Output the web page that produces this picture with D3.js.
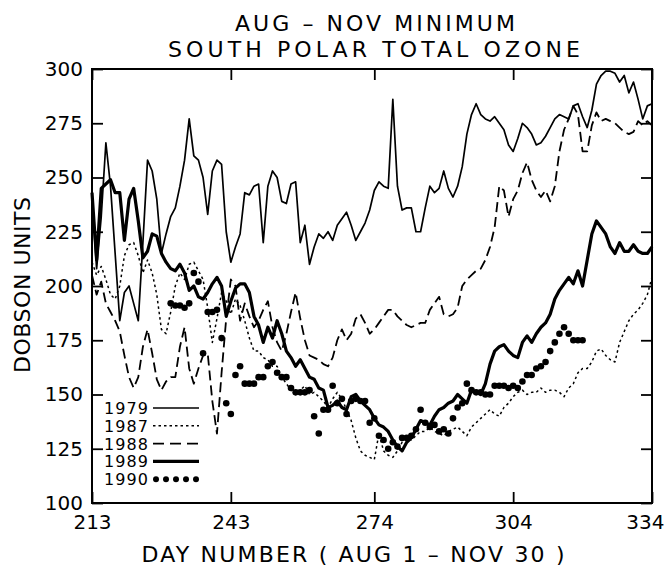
<!DOCTYPE html>
<html>
<head>
<meta charset="utf-8">
<script src="https://cdn.jsdelivr.net/npm/d3@7"></script>
<style>
  body { margin: 0; background: #fff; }
  svg { display: block; }
  text { font-family: "DejaVu Sans", sans-serif; fill: #000; }
</style>
</head>
<body>
<div id="chart"></div>
<script>
// day numbers on the x axis
const xTicks = [213, 243, 274, 304, 334];
const yTicks = [100, 125, 150, 175, 200, 225, 250, 275, 300];

const titleLines = ['AUG \u2013 NOV  MINIMUM', 'SOUTH  POLAR  TOTAL  OZONE'];
const years = ['1979', '1987', '1988', '1989', '1990'];

// daily minimum total ozone (Dobson units), day 213 .. 334
const start = 213;
const ozone1979 = [
  240, 208, 232, 266, 246, 215, 184, 197, 200, 192,
  184, 220, 258, 253, 240, 215, 224, 232, 236, 246,
  258, 277, 260, 258, 250, 233, 253, 258, 256, 225,
  211, 218, 224, 243, 242, 246, 247, 220, 246, 253,
  250, 239, 238, 247, 248, 220, 228, 210, 218, 224,
  222, 225, 221, 228, 231, 234, 228, 221, 225, 229,
  235, 244, 248, 246, 245, 286, 246, 235, 236, 236,
  225, 225, 236, 246, 243, 245, 253, 245, 241, 246,
  255, 270, 279, 284, 279, 277, 276, 278, 275, 272,
  265, 262, 268, 275, 273, 270, 265, 266, 269, 273,
  277, 279, 278, 277, 283, 284, 278, 273, 281, 293,
  297, 299, 299, 298, 294, 297, 289, 294, 286, 277,
  283, 284
];
const ozone1987 = [
  211, 205, 209, 203, 196, 194, 200, 214, 219, 220,
  214, 206, 212, 206, 196, 180, 178, 188, 200, 206,
  203, 210, 211, 207, 203, 190, 174, 185, 197, 193,
  187, 194, 191, 184, 176, 170, 170, 167, 166, 163,
  163, 158, 155, 152, 150, 152, 154, 150, 151, 149,
  147, 144, 148, 151, 148, 143, 138, 130, 124, 122,
  121, 120, 132, 124, 122, 121, 124, 128, 130, 129,
  131, 133, 133, 135, 133, 132, 131, 133, 134, 135,
  133, 131, 135, 137, 139, 141, 143, 141, 140, 144,
  146, 149, 151, 152, 150, 151, 151, 153, 151, 152,
  152, 151, 149, 153, 155, 160, 162, 162, 165, 170,
  171, 168, 166, 165, 174, 179, 184, 187, 189, 192,
  196, 204
];
const ozone1988 = [
  205, 196, 202, 192, 188, 184, 179, 168, 158, 153,
  158, 172, 180, 169, 157, 152, 156, 158, 158, 172,
  181, 162, 155, 162, 168, 169, 147, 132, 160, 185,
  203, 200, 184, 192, 186, 181, 184, 189, 193, 181,
  174, 170, 178, 188, 197, 185, 175, 168, 167, 166,
  164, 163, 167, 175, 180, 175, 178, 185, 187, 183,
  178, 180, 183, 186, 189, 189, 186, 184, 182, 181,
  182, 183, 183, 189, 192, 195, 187, 186, 187, 190,
  200, 203, 205, 207, 208, 212, 218, 227, 246, 244,
  232, 240, 244, 252, 257, 249, 244, 241, 244, 239,
  246, 262, 272, 277, 283, 279, 262, 262, 274, 280,
  276, 277, 276, 275, 273, 271, 270, 271, 276, 274,
  276, 274
];
const ozone1989 = [
  243, 212, 245, 247, 249, 243, 243, 221, 240, 245,
  230, 213, 216, 224, 223, 215, 211, 208, 207, 210,
  206, 198, 200, 195, 194, 197, 201, 204, 200, 186,
  193, 199, 201, 201, 197, 186, 182, 174, 181, 176,
  184, 178, 170, 167, 163, 166, 162, 158, 157, 153,
  152, 144, 145, 147, 144, 143, 149, 150, 147, 145,
  143, 139, 136, 135, 133, 129, 126, 124, 128, 130,
  134, 138, 137, 136, 140, 143, 144, 146, 147, 150,
  148, 146, 152, 151, 150, 155, 164, 170, 172, 173,
  170, 168, 167, 174, 177, 174, 178, 181, 183, 187,
  194, 198, 201, 204, 201, 207, 200, 212, 224, 230,
  227, 224, 218, 215, 220, 216, 216, 219, 216, 215,
  215, 218
];
// 1990 only from day 230 to 319
const start1990 = 230;
const ozone1990 = [
  192, 191, 191, 190, 192, 206, 202, 169, 188, 188,
  189, 176, 146, 141, 159, 163, 155, 155, 155, 158,
  158, 163, 165, 160, 158, 158, 153, 151, 151, 151,
  152, 140, 132, 143, 143, 154, 146, 148, 141, 147,
  148, 147, 147, 137, 139, 131, 129, 125, 128, 126,
  130, 130, 131, 134, 143, 137, 135, 136, 133, 134,
  132, 139, 144, 146, 155, 152, 151, 151, 150, 150,
  154, 154, 154, 153, 154, 153, 156, 159, 159, 162,
  163, 165, 170, 174, 178, 181, 178, 175, 175, 175
];

const Chart = {
  width: 667,
  height: 568,
  margin: { left: 92, right: 15, top: 69, bottom: 65 },

  init() {
    const m = this.margin;
    const svg = d3.select('#chart').append('svg')
      .attr('width', this.width)
      .attr('height', this.height);

    const x = d3.scaleLinear().domain([213, 334]).range([m.left, this.width - m.right]);
    const y = d3.scaleLinear().domain([100, 300]).range([this.height - m.bottom, m.top]);

    const toPoints = (vals, s) => vals.map((v, i) => [s + i, v]);
    const line = d3.line().x(d => x(d[0])).y(d => y(d[1]));

    // series lines
    const series = [
      { data: toPoints(ozone1979, start), width: 1.7, dash: null },
      { data: toPoints(ozone1987, start), width: 1.5, dash: '2.5,3' },
      { data: toPoints(ozone1988, start), width: 1.8, dash: '10,5' },
      { data: toPoints(ozone1989, start), width: 3.2, dash: null }
    ];
    series.forEach(s => {
      svg.append('path')
        .datum(s.data)
        .attr('fill', 'none')
        .attr('stroke', '#000')
        .attr('stroke-width', s.width)
        .attr('stroke-linejoin', 'round')
        .attr('stroke-dasharray', s.dash)
        .attr('d', line);
    });

    svg.selectAll('circle.d1990')
      .data(toPoints(ozone1990, start1990))
      .enter()
      .append('circle')
      .attr('class', 'd1990')
      .attr('cx', d => x(d[0]))
      .attr('cy', d => y(d[1]))
      .attr('r', 3.3)
      .attr('fill', '#000');

    // axes, ticks point inward
    const bottom = svg.append('g')
      .attr('transform', `translate(0,${this.height - m.bottom})`)
      .call(d3.axisBottom(x).tickValues(xTicks).tickSize(-11).tickPadding(12));
    bottom.selectAll('text').style('font-size', '20px');
    // last label sits flush with the right edge
    bottom.selectAll('.tick').filter(d => d === 334).select('text')
      .attr('text-anchor', 'end').attr('dx', 12);

    svg.append('g')
      .attr('transform', `translate(0,${m.top})`)
      .call(d3.axisTop(x).tickValues(xTicks).tickSize(-11).tickFormat(''));

    const left = svg.append('g')
      .attr('transform', `translate(${m.left},0)`)
      .call(d3.axisLeft(y).tickValues(yTicks).tickSize(-11).tickPadding(9));
    left.selectAll('text').style('font-size', '20px');

    svg.append('g')
      .attr('transform', `translate(${this.width - m.right},0)`)
      .call(d3.axisRight(y).tickValues(yTicks).tickSize(-11).tickFormat(''));

    svg.selectAll('.domain').remove();
    svg.selectAll('.tick line').attr('stroke', '#000').attr('stroke-width', 1.8);
    svg.selectAll('.tick text').attr('fill', '#000').style('font-family', '"DejaVu Sans", sans-serif');

    // frame
    svg.append('rect')
      .attr('x', m.left)
      .attr('y', m.top)
      .attr('width', this.width - m.left - m.right)
      .attr('height', this.height - m.top - m.bottom)
      .attr('fill', 'none')
      .attr('stroke', '#000')
      .attr('stroke-width', 2);

    // titles
    svg.append('text')
      .attr('x', 375).attr('y', 31)
      .attr('text-anchor', 'middle')
      .attr('textLength', 280).attr('lengthAdjust', 'spacing')
      .style('font-size', '22px')
      .text(titleLines[0]);
    svg.append('text')
      .attr('x', 374).attr('y', 57)
      .attr('text-anchor', 'middle')
      .attr('textLength', 412).attr('lengthAdjust', 'spacing')
      .style('font-size', '22px')
      .text(titleLines[1]);

    svg.append('text')
      .attr('x', 353).attr('y', 562)
      .attr('text-anchor', 'middle')
      .attr('textLength', 423).attr('lengthAdjust', 'spacing')
      .style('font-size', '22px')
      .text('DAY NUMBER  ( AUG 1  \u2013  NOV 30 )');

    svg.append('text')
      .attr('transform', 'translate(30,285) rotate(-90)')
      .attr('text-anchor', 'middle')
      .attr('textLength', 176).attr('lengthAdjust', 'spacing')
      .style('font-size', '22px')
      .text('DOBSON UNITS');

    // legend
    const legend = svg.append('g').attr('transform', 'translate(104,408)');
    const styles = [
      { width: 1.5, dash: null },
      { width: 1.5, dash: '2.5,3' },
      { width: 1.8, dash: '11,6' },
      { width: 3.2, dash: null },
      null
    ];
    years.forEach((yr, i) => {
      const row = legend.append('g').attr('transform', `translate(0,${i * 17.8})`);
      row.append('text')
        .attr('x', 0).attr('y', 6)
        .attr('textLength', 44).attr('lengthAdjust', 'spacing')
        .style('font-size', '16px')
        .text(yr);
      const st = styles[i];
      if (st) {
        row.append('line')
          .attr('x1', 49).attr('x2', 95)
          .attr('stroke', '#000')
          .attr('stroke-width', st.width)
          .attr('stroke-dasharray', st.dash);
      } else {
        row.selectAll('circle')
          .data([0, 1, 2, 3, 4])
          .enter()
          .append('circle')
          .attr('cx', d => 52 + d * 10)
          .attr('cy', 0)
          .attr('r', 3)
          .attr('fill', '#000');
      }
    });
  }
};

Chart.init();
</script>
</body>
</html>
